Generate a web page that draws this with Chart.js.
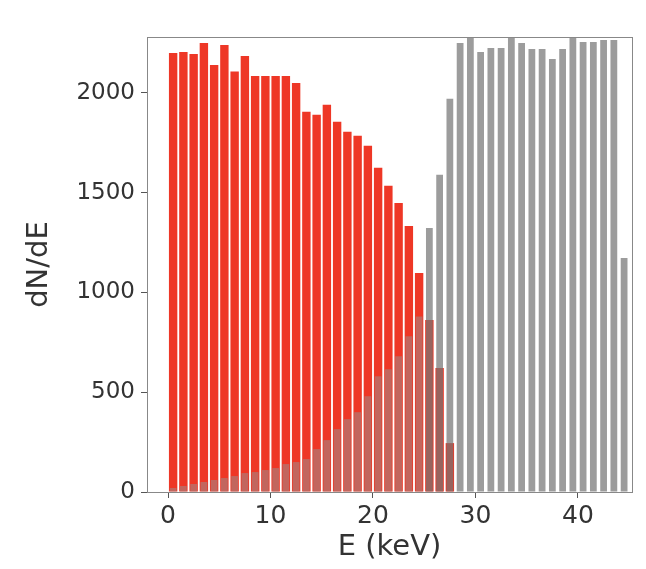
<!DOCTYPE html>
<html>
<head>
<meta charset="utf-8">
<script src="https://cdn.jsdelivr.net/npm/chart.js@4.4.1/dist/chart.umd.min.js"></script>
<style>
  html, body { margin: 0; padding: 0; background: #fff; }
  canvas { display: block; }
</style>
</head>
<body>
<canvas id="chart" width="646" height="569"></canvas>
<script>
// bin centres (keV), 1 keV bins
const binCenters = [0.5, 1.5, 2.5, 3.5, 4.5, 5.5, 6.5, 7.5, 8.5, 9.5,
    10.5, 11.5, 12.5, 13.5, 14.5, 15.5, 16.5, 17.5, 18.5, 19.5,
    20.5, 21.5, 22.5, 23.5, 24.5, 25.5, 26.5, 27.5, 28.5, 29.5,
    30.5, 31.5, 32.5, 33.5, 34.5, 35.5, 36.5, 37.5, 38.5, 39.5,
    40.5, 41.5, 42.5, 43.5, 44.5];

// red histogram (bins 0..27)
const redCounts = [2200, 2205, 2195, 2250, 2140, 2240, 2107, 2185, 2085, 2085,
    2085, 2085, 2050, 1905, 1890, 1940, 1855, 1805, 1785, 1735,
    1625, 1535, 1448, 1333, 1098, 862, 621, 245];

// grey histogram (bins 0..44)
const greyCounts = [20, 30, 40, 50, 60, 70, 80, 95, 100, 110,
    120, 140, 150, 165, 215, 260, 315, 365, 400, 480,
    580, 615, 680, 780, 880, 1323, 1590, 1970, 2250, 2280,
    2205, 2225, 2225, 2275, 2250, 2220, 2220, 2170, 2220, 2275,
    2255, 2255, 2265, 2265, 1173];

const xTicks = [0, 10, 20, 30, 40];
const yTicks = [0, 500, 1000, 1500, 2000];

const font = 'DejaVu Sans';

const redData = redCounts.map((v, i) => ({ x: binCenters[i], y: v }));
const greyData = greyCounts.map((v, i) => ({ x: binCenters[i], y: v }));
// grey is lighter where it is hidden under a taller red bar
const greyColors = greyCounts.map((v, i) =>
    v < (redCounts[i] || 0) ? 'rgba(150,150,150,0.5)' : 'rgba(118,118,118,0.72)');

const frame = {
    id: 'frame',
    afterDatasetsDraw(chart) {
        const { ctx, chartArea: a } = chart;
        ctx.save();
        ctx.strokeStyle = '#888';
        ctx.lineWidth = 1;
        ctx.strokeRect(Math.round(a.left) + 0.5, Math.round(a.top) + 0.5,
            Math.round(a.width), Math.round(a.height));
        ctx.restore();
    }
};

const ctx = document.getElementById('chart').getContext('2d');
const myChart = new Chart(ctx, {
    type: 'bar',
    data: {
        datasets: [{
            label: 'grey',
            data: greyData,
            backgroundColor: greyColors,
            barPercentage: 0.66,
            categoryPercentage: 1
        }, {
            label: 'red',
            data: redData,
            backgroundColor: 'rgb(238,55,38)',
            barPercentage: 0.82,
            categoryPercentage: 1
        }]
    },
    options: {
        responsive: false,
        animation: false,
        grouped: false,
        layout: { padding: { top: 37, right: 14, left: 0, bottom: 0 } },
        plugins: {
            legend: { display: false },
            tooltip: { enabled: false }
        },
        scales: {
            x: {
                type: 'linear',
                offset: false,
                min: -2.05,
                max: 45.27,
                afterBuildTicks: (scale) => { scale.ticks = xTicks.map(v => ({ value: v })); },
                afterFit: (scale) => { scale.height = 77; },
                ticks: {
                    callback: (v) => String(v),
                    font: { family: font, size: 25 }, color: '#333', padding: 3, maxRotation: 0
                },
                grid: { drawOnChartArea: false, tickLength: 6, color: '#555', offset: false },
                border: { display: false },
                title: { display: true, text: 'E (keV)', font: { family: font, size: 29 }, color: '#333', padding: { top: 0, bottom: 4 } }
            },
            y: {
                min: 0,
                max: 2280,
                afterBuildTicks: (scale) => { scale.ticks = yTicks.map(v => ({ value: v })); },
                afterFit: (scale) => { scale.width = 147; },
                ticks: {
                    callback: (v) => String(v),
                    font: { family: font, size: 23 }, color: '#333', padding: 6
                },
                grid: { drawOnChartArea: false, tickLength: 6, color: '#555' },
                border: { display: false },
                title: { display: true, text: 'dN/dE', font: { family: font, size: 29 }, color: '#333', padding: { top: 22, bottom: 0 } }
            }
        }
    },
    plugins: [frame]
});
</script>
</body>
</html>
